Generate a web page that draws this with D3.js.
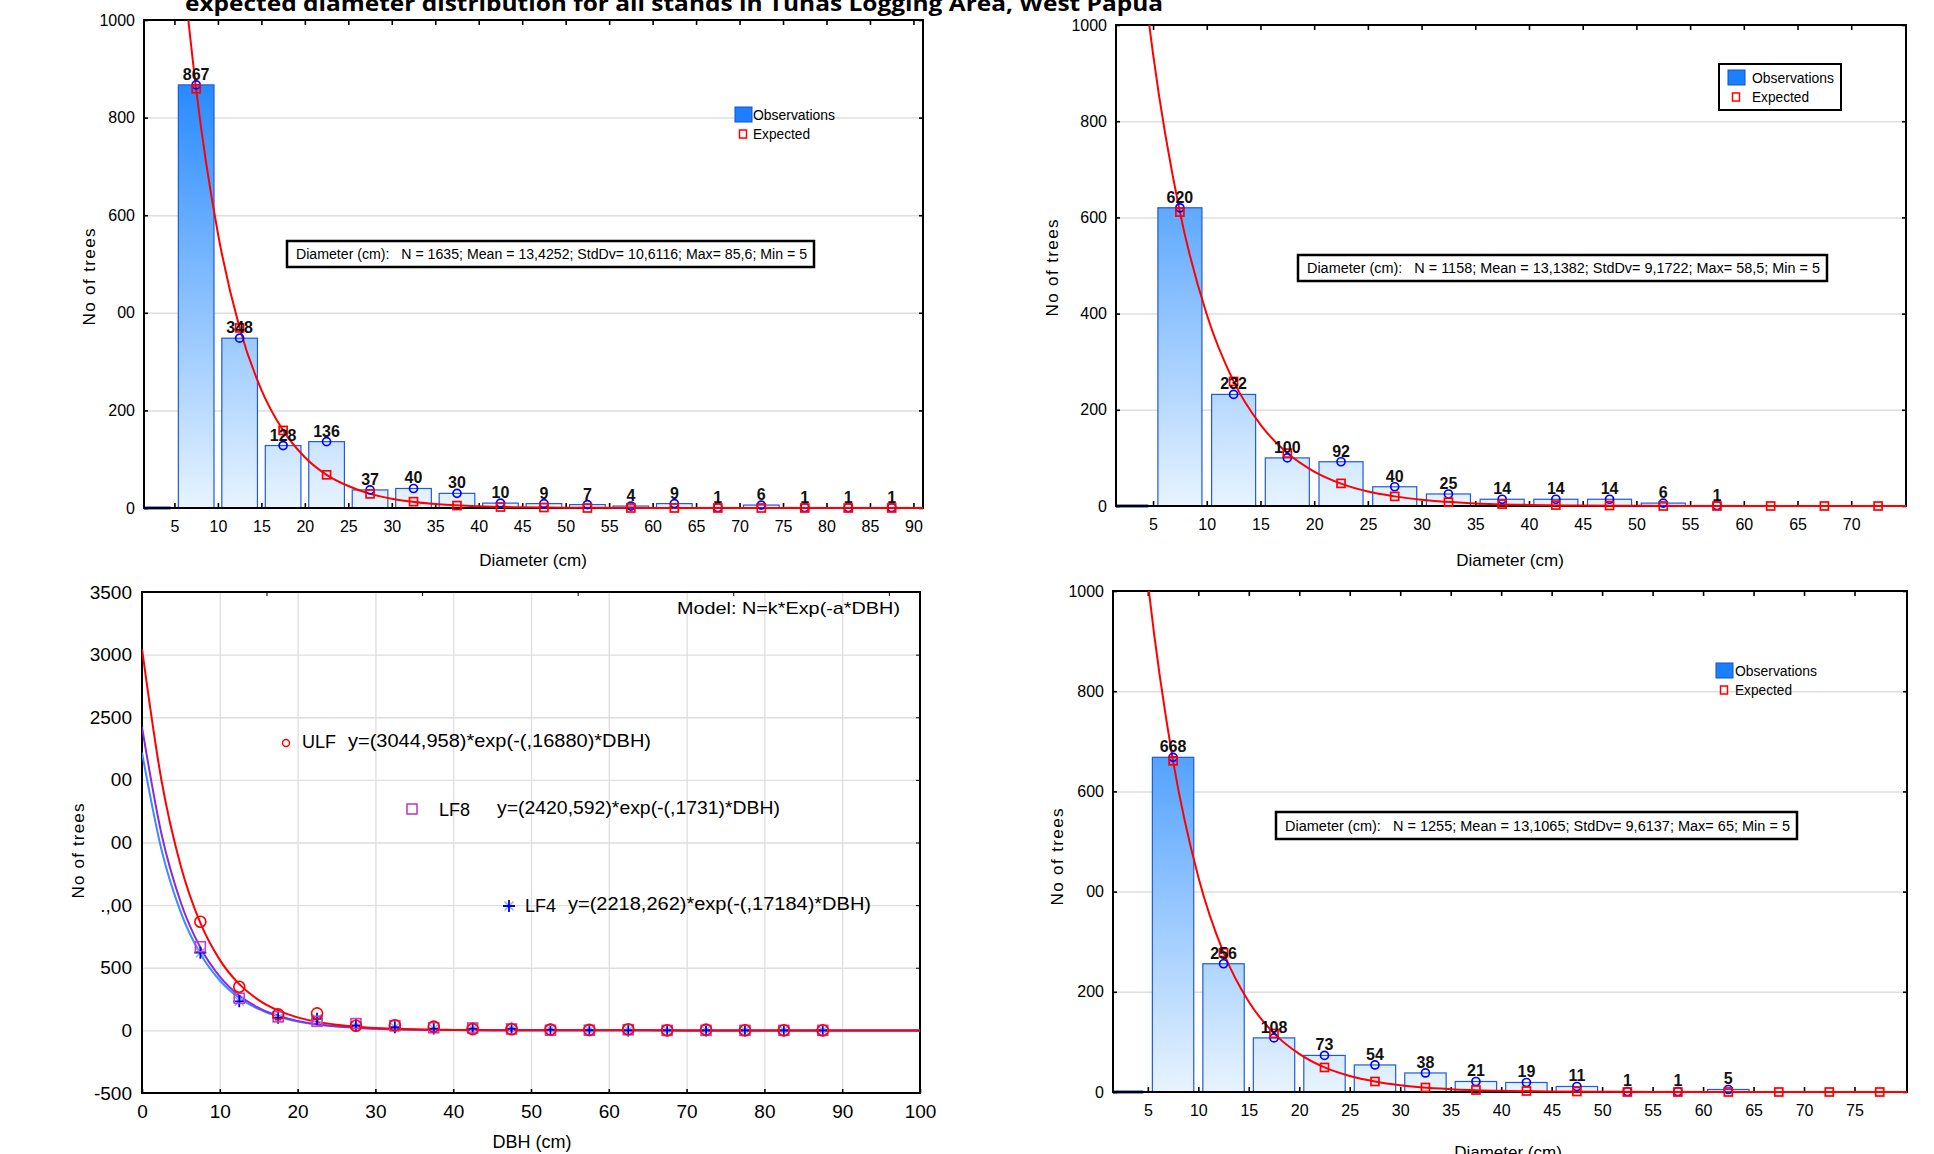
<!DOCTYPE html>
<html>
<head>
<meta charset="utf-8">
<script src="https://cdnjs.cloudflare.com/ajax/libs/d3/7.8.5/d3.min.js"></script>
<style>
  body { margin: 0; background: #fff; }
  svg { display: block; font-family: "Liberation Sans", Arial, sans-serif; }
</style>
</head>
<body>
<svg id="chart" width="1934" height="1154"></svg>
<script>

const NARROW = '"Liberation Sans Narrow", "Arial Narrow", "Liberation Sans", sans-serif';

// ---- histogram data (bins are lower edges, 5 cm wide) ----
const histYTicks = [0, 200, 400, 600, 800, 1000];

const tlBins     = [0, 5, 10, 15, 20, 25, 30, 35, 40, 45, 50, 55, 60, 65, 70, 75, 80, 85];
const tlObserved = [0, 867, 348, 128, 136, 37, 40, 30, 10, 9, 7, 4, 9, 1, 6, 1, 1, 1];
const tlExpected = [null, 859, 369, 159, 68, 29, 13, 5, 2, 1, 0, 0, 0, 0, 0, 0, 0, 0];
const tlXTicks   = [5, 10, 15, 20, 25, 30, 35, 40, 45, 50, 55, 60, 65, 70, 75, 80, 85, 90];
const tlYLabels  = ['0', '200', '00', '600', '800', '1000'];
const tlStats    = 'Diameter (cm):   N = 1635; Mean = 13,4252; StdDv= 10,6116; Max= 85,6; Min = 5';

const trBins     = [0, 5, 10, 15, 20, 25, 30, 35, 40, 45, 50, 55, 60, 65, 70];
const trObserved = [0, 620, 232, 100, 92, 40, 25, 14, 14, 14, 6, 1, 0, 0, 0];
const trExpected = [null, 611, 259, 110, 47, 20, 8, 4, 2, 1, 0, 0, 0, 0, 0];
const trXTicks   = [5, 10, 15, 20, 25, 30, 35, 40, 45, 50, 55, 60, 65, 70];
const trYLabels  = ['0', '200', '400', '600', '800', '1000'];
const trStats    = 'Diameter (cm):   N = 1158; Mean = 13,1382; StdDv= 9,1722; Max= 58,5; Min = 5';

const brBins     = [0, 5, 10, 15, 20, 25, 30, 35, 40, 45, 50, 55, 60, 65, 70, 75];
const brObserved = [0, 668, 256, 108, 73, 54, 38, 21, 19, 11, 1, 1, 5, 0, 0, 0];
const brExpected = [null, 661, 278, 117, 49, 21, 9, 4, 2, 1, 0, 0, 0, 0, 0, 0];
const brXTicks   = [5, 10, 15, 20, 25, 30, 35, 40, 45, 50, 55, 60, 65, 70, 75];
const brYLabels  = ['0', '200', '00', '600', '800', '1000'];
const brStats    = 'Diameter (cm):   N = 1255; Mean = 13,1065; StdDv= 9,6137; Max= 65; Min = 5';

// ---- fitted model curves, read along DBH ----
const curveX   = [0, 2.5, 5, 7.5, 10, 12.5, 15, 17.5, 20, 22.5, 25, 27.5, 30, 35, 40, 45, 50, 60, 70, 80, 90, 100];
const ulfCurve = [3045, 1997, 1309, 858, 563, 369, 242, 159, 104, 68, 45, 29, 19, 8, 3.6, 1.5, 0.7, 0.1, 0, 0, 0, 0];
const lf8Curve = [2421, 1570, 1019, 661, 429, 278, 180, 117, 76, 49, 32, 21, 13.5, 5.7, 2.4, 1, 0.4, 0.1, 0, 0, 0, 0];
const lf4Curve = [2218, 1444, 940, 611, 398, 259, 169, 110, 71.5, 46.5, 30, 20, 13, 5.4, 2.3, 1, 0.4, 0.1, 0, 0, 0, 0];

// ---- DBH plot (bottom left) ----
const dbhMid  = [7.5, 12.5, 17.5, 22.5, 27.5, 32.5, 37.5, 42.5, 47.5, 52.5, 57.5, 62.5, 67.5, 72.5, 77.5, 82.5, 87.5];
const ulfObs  = [867, 348, 128, 136, 37, 40, 30, 10, 9, 7, 4, 9, 1, 6, 1, 1, 1];
const lf8Obs  = [668, 256, 108, 73, 54, 38, 21, 19, 11, 1, 1, 5, 0, 0, 0, 0, 0];
const lf4Obs  = [620, 232, 100, 92, 40, 25, 14, 14, 14, 6, 1, 0, 0, 0, 0, 0, 0];
const dbhXTicks  = [0, 10, 20, 30, 40, 50, 60, 70, 80, 90, 100];
const dbhYTicks  = [-500, 0, 500, 1000, 1500, 2000, 2500, 3000, 3500];
const dbhYLabels = ['-500', '0', '500', '.,00', '00', '00', '2500', '3000', '3500'];
const dbhTopTicks = [16, 36, 56, 76, 96];


const svg = d3.select('#chart');
const defs = svg.append('defs');

const styleText = function(sel, family, size){
    sel.selectAll('text').attr('font-family', family).attr('font-size', size).attr('fill', '#000');
};

const drawHist = function(cfg){
    let w = cfg.right - cfg.left;
    let x = d3.scaleLinear().domain(cfg.xDomain).range([cfg.left, cfg.right]);
    let y = d3.scaleLinear().domain([0, 1000]).range([cfg.bottom, cfg.top]);
    let g = svg.append('g');

    defs.append('clipPath').attr('id', 'clip-' + cfg.id).append('rect')
        .attr('x', cfg.left).attr('y', cfg.top)
        .attr('width', w).attr('height', cfg.bottom - cfg.top + 3);
    let grad = defs.append('linearGradient').attr('id', 'grad-' + cfg.id)
        .attr('gradientUnits', 'userSpaceOnUse')
        .attr('x1', 0).attr('x2', 0).attr('y1', cfg.top).attr('y2', cfg.bottom);
    grad.append('stop').attr('offset', 0).attr('stop-color', '#0a7aff');
    grad.append('stop').attr('offset', 1).attr('stop-color', '#e8f4ff');

    // grid
    g.append('g').attr('transform', 'translate(' + cfg.left + ',0)')
        .call(d3.axisLeft(y).tickValues(histYTicks.slice(1, -1)).tickSize(-w).tickFormat(''))
        .call(a => a.select('.domain').remove())
        .selectAll('line').attr('stroke', '#dedede').attr('stroke-width', 1.5);

    let data = cfg.bins.map((b, i) => ({lo: b, n: cfg.obs[i], e: cfg.exp[i]}));
    let gap = 0.45;

    // bars
    let bars = g.append('g').attr('clip-path', 'url(#clip-' + cfg.id + ')');
    bars.selectAll('rect.bar')
        .data(data.filter(d => d.n > 0))
        .enter()
        .append('rect')
        .attr('class', 'bar')
        .attr('x', d => x(d.lo + gap))
        .attr('width', d => x(d.lo + 5 - gap) - x(d.lo + gap))
        .attr('y', d => y(d.n))
        .attr('height', d => y(0) - y(d.n))
        .attr('fill', 'url(#grad-' + cfg.id + ')')
        .attr('stroke', '#1f5bd8')
        .attr('stroke-width', 1.2);
    bars.selectAll('line.zero')
        .data(data.filter(d => d.n === 0 && d.lo === 0))
        .enter()
        .append('line')
        .attr('class', 'zero')
        .attr('x1', d => x(d.lo + gap)).attr('x2', d => x(d.lo + 5 - gap))
        .attr('y1', y(0)).attr('y2', y(0))
        .attr('stroke', '#14329a').attr('stroke-width', 3);

    // frame
    g.append('rect')
        .attr('x', cfg.left).attr('y', cfg.top)
        .attr('width', w).attr('height', cfg.bottom - cfg.top)
        .attr('fill', 'none').attr('stroke', '#000').attr('stroke-width', 2);

    // axes
    let ax = g.append('g').attr('transform', 'translate(0,' + cfg.bottom + ')')
        .call(d3.axisBottom(x).tickValues(cfg.xTicks).tickSize(-5).tickPadding(13));
    styleText(ax, NARROW, 16);
    let ay = g.append('g').attr('transform', 'translate(' + cfg.left + ',0)')
        .call(d3.axisLeft(y).tickValues(histYTicks).tickSize(-4).tickPadding(9)
            .tickFormat((d, i) => cfg.yLabels[i]));
    styleText(ay, NARROW, 16);
    g.append('g').attr('transform', 'translate(0,' + cfg.top + ')')
        .call(d3.axisTop(x).tickValues(cfg.xTicks).tickSize(-5).tickFormat(''));
    g.append('g').attr('transform', 'translate(' + cfg.right + ',0)')
        .call(d3.axisRight(y).tickValues(histYTicks).tickSize(-4).tickFormat(''));
    g.selectAll('.domain').remove();
    g.selectAll('g.tick line').attr('stroke-width', function(){ return this.getAttribute('stroke') === '#dedede' ? 1.5 : 1.6; });

    // expected curve
    let line = d3.line()
        .x(function(d){ return x(d[0]); })
        .y(function(d){ return y(d[1]); })
        .curve(d3.curveMonotoneX);
    g.append('path')
        .datum(curveX.map((v, i) => [v, cfg.curve[i]]))
        .attr('clip-path', 'url(#clip-' + cfg.id + ')')
        .attr('d', line)
        .attr('fill', 'none').attr('stroke', '#ff0000').attr('stroke-width', 2);

    // observed circles
    g.selectAll('circle.obs')
        .data(data.filter(d => d.n > 0))
        .enter()
        .append('circle')
        .attr('class', 'obs')
        .attr('cx', d => x(d.lo + 2.5))
        .attr('cy', d => y(d.n))
        .attr('r', 4)
        .attr('fill', 'none').attr('stroke', '#0000ff').attr('stroke-width', 1.7);

    // expected squares
    g.selectAll('rect.exp')
        .data(data.filter(d => d.e !== null))
        .enter()
        .append('rect')
        .attr('class', 'exp')
        .attr('x', d => x(d.lo + 2.5) - 4)
        .attr('y', d => y(d.e) - 4)
        .attr('width', 8).attr('height', 8)
        .attr('fill', 'none').attr('stroke', '#ff0000').attr('stroke-width', 1.7);

    // value labels
    g.selectAll('text.val')
        .data(data.filter(d => d.n > 0))
        .enter()
        .append('text')
        .attr('class', 'val')
        .attr('x', d => x(d.lo + 2.5))
        .attr('y', d => y(d.n) - 5)
        .attr('text-anchor', 'middle')
        .attr('font-family', NARROW)
        .attr('font-size', 16)
        .attr('font-weight', 'bold')
        .attr('fill', '#111')
        .text(d => d.n);

    // stats box
    let sb = cfg.statsBox;
    g.append('rect')
        .attr('x', sb[0]).attr('y', sb[1]).attr('width', sb[2]).attr('height', sb[3])
        .attr('fill', '#fff').attr('stroke', '#000').attr('stroke-width', 2.5);
    g.append('text')
        .attr('x', sb[0] + 9).attr('y', sb[1] + sb[3] / 2 + 5)
        .attr('font-family', NARROW).attr('font-size', 15.5)
        .attr('textLength', sb[2] - 16).attr('lengthAdjust', 'spacingAndGlyphs')
        .style('white-space', 'pre')
        .text(cfg.stats);

    // legend
    let lg = cfg.legend;
    if (lg.box) {
        g.append('rect')
            .attr('x', lg.box[0]).attr('y', lg.box[1]).attr('width', lg.box[2]).attr('height', lg.box[3])
            .attr('fill', '#fff').attr('stroke', '#000').attr('stroke-width', 2);
    }
    g.append('rect')
        .attr('x', lg.x).attr('y', lg.y).attr('width', 17).attr('height', 15)
        .attr('fill', '#1a80ff').attr('stroke', '#1450c8').attr('stroke-width', 1);
    g.append('rect')
        .attr('x', lg.x + 4.5).attr('y', lg.y + 23).attr('width', 7).attr('height', 8)
        .attr('fill', 'none').attr('stroke', '#ff0000').attr('stroke-width', 1.5);
    g.append('text')
        .attr('x', lg.tx).attr('y', lg.y + 13)
        .attr('font-family', NARROW).attr('font-size', 15.5)
        .attr('textLength', 82).attr('lengthAdjust', 'spacingAndGlyphs')
        .text('Observations');
    g.append('text')
        .attr('x', lg.tx).attr('y', lg.y + 32)
        .attr('font-family', NARROW).attr('font-size', 15.5)
        .attr('textLength', 57).attr('lengthAdjust', 'spacingAndGlyphs')
        .text('Expected');

    // axis titles
    g.append('text')
        .attr('x', cfg.xTitle[0]).attr('y', cfg.xTitle[1])
        .attr('text-anchor', 'middle').attr('font-size', 17)
        .text('Diameter (cm)');
    g.append('text')
        .attr('transform', 'translate(' + cfg.yTitle[0] + ',' + cfg.yTitle[1] + ') rotate(-90)')
        .attr('text-anchor', 'middle').attr('dy', '0.35em').attr('font-size', 17)
        .attr('textLength', 97).attr('lengthAdjust', 'spacing')
        .text('No of trees');
};

drawHist({
    id: 'tl', left: 144, right: 923, top: 20, bottom: 508, xDomain: [1.5, 91.1],
    bins: tlBins, obs: tlObserved, exp: tlExpected, curve: ulfCurve,
    xTicks: tlXTicks, yLabels: tlYLabels, stats: tlStats,
    statsBox: [287, 241, 527, 26],
    legend: {x: 735, y: 107, tx: 753},
    xTitle: [533, 566], yTitle: [89, 277]
});

drawHist({
    id: 'tr', left: 1116, right: 1906, top: 25, bottom: 506, xDomain: [1.55, 75.1],
    bins: trBins, obs: trObserved, exp: trExpected, curve: lf4Curve,
    xTicks: trXTicks, yLabels: trYLabels, stats: trStats,
    statsBox: [1298, 255, 529, 26],
    legend: {x: 1728, y: 70, tx: 1752, box: [1719, 64, 122, 46]},
    xTitle: [1510, 566], yTitle: [1052, 268]
});

drawHist({
    id: 'br', left: 1113, right: 1907, top: 591, bottom: 1092, xDomain: [1.55, 80.2],
    bins: brBins, obs: brObserved, exp: brExpected, curve: lf8Curve,
    xTicks: brXTicks, yLabels: brYLabels, stats: brStats,
    statsBox: [1276, 812, 521, 27],
    legend: {x: 1716, y: 663, tx: 1735},
    xTitle: [1508, 1158], yTitle: [1057, 857]
});


// ---- DBH model plot ----
const drawModel = function(){
    let left = 142, right = 920, top = 592, bottom = 1093;
    let w = right - left, h = bottom - top;
    let x = d3.scaleLinear().domain([0, 100]).range([left, right]);
    let y = d3.scaleLinear().domain([-500, 3500]).range([bottom, top]);
    let g = svg.append('g');

    defs.append('clipPath').attr('id', 'clip-bl').append('rect')
        .attr('x', left).attr('y', top).attr('width', w).attr('height', h);

    g.append('g').attr('transform', 'translate(0,' + bottom + ')')
        .call(d3.axisBottom(x).tickValues(dbhXTicks.slice(1, -1)).tickSize(-h).tickFormat(''))
        .selectAll('line').attr('stroke', '#dedede').attr('stroke-width', 1.3);
    g.append('g').attr('transform', 'translate(' + left + ',0)')
        .call(d3.axisLeft(y).tickValues(dbhYTicks.slice(1, -1)).tickSize(-w).tickFormat(''))
        .selectAll('line').attr('stroke', '#dedede').attr('stroke-width', 1.3);
    g.selectAll('.domain').remove();

    g.append('rect')
        .attr('x', left).attr('y', top).attr('width', w).attr('height', h)
        .attr('fill', 'none').attr('stroke', '#000').attr('stroke-width', 2);

    let ax = g.append('g').attr('transform', 'translate(0,' + bottom + ')')
        .call(d3.axisBottom(x).tickValues(dbhXTicks).tickSize(-4).tickPadding(12));
    styleText(ax, '"Liberation Sans", Arial, sans-serif', 19);
    let ay = g.append('g').attr('transform', 'translate(' + left + ',0)')
        .call(d3.axisLeft(y).tickValues(dbhYTicks).tickSize(0).tickPadding(10)
            .tickFormat((d, i) => dbhYLabels[i]));
    styleText(ay, '"Liberation Sans", Arial, sans-serif', 19);
    g.append('g').attr('transform', 'translate(0,' + top + ')')
        .call(d3.axisTop(x).tickValues(dbhTopTicks).tickSize(-4).tickFormat(''));
    g.append('g').attr('transform', 'translate(' + right + ',0)')
        .call(d3.axisRight(y).tickValues(dbhYTicks).tickSize(-4).tickFormat(''));
    g.selectAll('.domain').remove();
    [ax, ay].forEach(a => a.selectAll('line').attr('stroke', '#000').attr('stroke-width', 1.6));

    let line = d3.line()
        .x(function(d){ return x(d[0]); })
        .y(function(d){ return y(d[1]); })
        .curve(d3.curveMonotoneX);
    let curves = [
        {vals: lf4Curve, color: '#3a8cff'},
        {vals: lf8Curve, color: '#8a2be2'},
        {vals: ulfCurve, color: '#ff0000'}
    ];
    curves.forEach(function(c){
        g.append('path')
            .datum(curveX.map((v, i) => [v, c.vals[i]]))
            .attr('clip-path', 'url(#clip-bl)')
            .attr('d', line)
            .attr('fill', 'none').attr('stroke', c.color).attr('stroke-width', 2);
    });

    // LF4 asterisks
    let star = function(sel){
        sel.append('path').attr('d', 'M-4.5,-4.5L4.5,4.5M-4.5,4.5L4.5,-4.5')
            .attr('stroke', '#7fb0ff').attr('stroke-width', 1.3);
        sel.append('path').attr('d', 'M-6,0H6M0,-6V6')
            .attr('stroke', '#0000e0').attr('stroke-width', 1.8);
    };
    g.selectAll('g.lf4')
        .data(dbhMid)
        .enter()
        .append('g')
        .attr('class', 'lf4')
        .attr('transform', (d, i) => 'translate(' + x(d) + ',' + y(lf4Obs[i]) + ')')
        .call(star);

    g.selectAll('rect.lf8')
        .data(dbhMid)
        .enter()
        .append('rect')
        .attr('class', 'lf8')
        .attr('x', d => x(d) - 5)
        .attr('y', (d, i) => y(lf8Obs[i]) - 5)
        .attr('width', 10).attr('height', 10)
        .attr('fill', 'none').attr('stroke', '#c040c8').attr('stroke-width', 1.6);

    g.selectAll('circle.ulf')
        .data(dbhMid)
        .enter()
        .append('circle')
        .attr('class', 'ulf')
        .attr('cx', d => x(d))
        .attr('cy', (d, i) => y(ulfObs[i]))
        .attr('r', 5.5)
        .attr('fill', 'none').attr('stroke', '#ff0000').attr('stroke-width', 1.6);

    // legend / model text
    g.append('text')
        .attr('x', 900).attr('y', 614).attr('text-anchor', 'end')
        .attr('font-size', 17).attr('textLength', 223).attr('lengthAdjust', 'spacingAndGlyphs')
        .text('Model: N=k*Exp(-a*DBH)');

    g.append('circle').attr('cx', 286).attr('cy', 743).attr('r', 3.5)
        .attr('fill', 'none').attr('stroke', '#ff0000').attr('stroke-width', 1.4);
    g.append('text').attr('x', 302).attr('y', 748).attr('font-size', 18).text('ULF');
    g.append('text').attr('x', 348).attr('y', 747).attr('font-size', 18)
        .attr('textLength', 303).attr('lengthAdjust', 'spacingAndGlyphs')
        .text('y=(3044,958)*exp(-(,16880)*DBH)');

    g.append('rect').attr('x', 407).attr('y', 804).attr('width', 10).attr('height', 10)
        .attr('fill', 'none').attr('stroke', '#c040c8').attr('stroke-width', 1.6);
    g.append('text').attr('x', 439).attr('y', 816).attr('font-size', 18).text('LF8');
    g.append('text').attr('x', 497).attr('y', 814).attr('font-size', 18)
        .attr('textLength', 283).attr('lengthAdjust', 'spacingAndGlyphs')
        .text('y=(2420,592)*exp(-(,1731)*DBH)');

    g.append('g').attr('transform', 'translate(509,906)').call(star);
    g.append('text').attr('x', 525).attr('y', 912).attr('font-size', 18).text('LF4');
    g.append('text').attr('x', 568).attr('y', 910).attr('font-size', 18)
        .attr('textLength', 303).attr('lengthAdjust', 'spacingAndGlyphs')
        .text('y=(2218,262)*exp(-(,17184)*DBH)');

    g.append('text')
        .attr('x', 532).attr('y', 1148).attr('text-anchor', 'middle').attr('font-size', 18)
        .text('DBH (cm)');
    g.append('text')
        .attr('transform', 'translate(78,851) rotate(-90)')
        .attr('text-anchor', 'middle').attr('dy', '0.35em').attr('font-size', 17)
        .attr('textLength', 95).attr('lengthAdjust', 'spacing')
        .text('No of trees');
};

drawModel();

// ---- page title (cut off at the top edge, as in the source figure) ----
svg.append('text')
    .attr('x', 185).attr('y', 11)
    .attr('font-family', '"Open Sans", "Noto Sans", sans-serif')
    .attr('font-weight', 'bold').attr('font-size', 21)
    .attr('textLength', 978).attr('lengthAdjust', 'spacingAndGlyphs')
    .text('expected diameter distribution for all stands in  Tuhas Logging Area, West Papua');

</script>
</body>
</html>
